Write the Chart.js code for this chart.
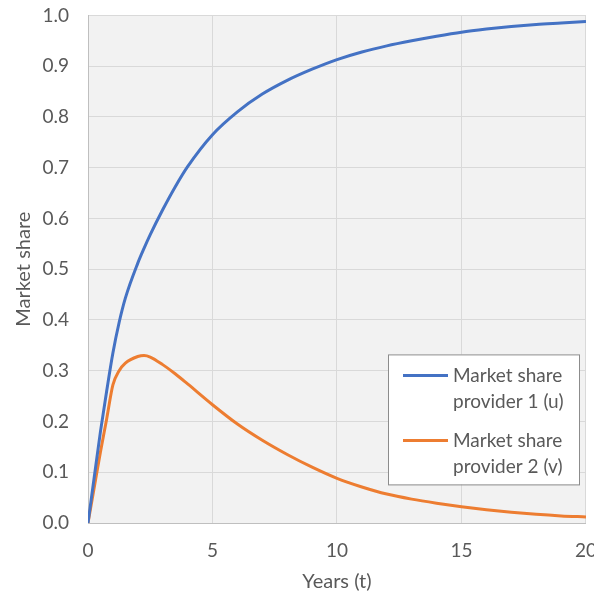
<!DOCTYPE html>
<html>
<head>
<meta charset="utf-8">
<script src="https://cdn.jsdelivr.net/npm/chart.js@4.4.1/dist/chart.umd.min.js"></script>
<style>
    html, body { margin: 0; padding: 0; background: #ffffff; overflow: hidden; }
    #wrap { position: relative; width: 613px; height: 611px; margin-top: -15px; }
</style>
</head>
<body>
<div id="wrap"><canvas id="shareChart"></canvas></div>
<script>
// --- Datos del gráfico ---
const years = [0, 0.25, 0.5, 0.75, 1, 1.25, 1.5, 2, 2.25, 2.5, 3, 3.5, 4, 5, 6, 7, 8, 9, 10, 11, 12, 13, 14, 15, 16, 17, 18, 19, 20];
const shareU = [0, 0.09, 0.18, 0.26, 0.335, 0.395, 0.443, 0.512, 0.541, 0.568, 0.617, 0.662, 0.702, 0.765, 0.81, 0.845, 0.872, 0.894, 0.913, 0.928, 0.94, 0.95, 0.959, 0.967, 0.973, 0.978, 0.982, 0.985, 0.988];
const shareV = [0, 0.07, 0.14, 0.205, 0.272, 0.3, 0.315, 0.328, 0.33, 0.327, 0.312, 0.294, 0.274, 0.233, 0.195, 0.163, 0.135, 0.11, 0.088, 0.071, 0.057, 0.047, 0.039, 0.032, 0.026, 0.021, 0.017, 0.014, 0.012];
const seriesNames = [['Market share', 'provider 1 (u)'], ['Market share', 'provider 2 (v)']];
const xTicks = [0, 5, 10, 15, 20];
const yTicks = [0, 0.1, 0.2, 0.3, 0.4, 0.5, 0.6, 0.7, 0.8, 0.9, 1.0];

const FONT = 'Lato, Calibri, "Liberation Sans", sans-serif';
const TEXT = '#595959';

// fondo gris del área de trazado
const plotBackground = {
    id: 'plotBackground',
    beforeDraw(chart) {
        const { ctx, chartArea: a } = chart;
        ctx.save();
        ctx.fillStyle = '#f2f2f2';
        ctx.fillRect(a.left, a.top, a.right - a.left, a.bottom - a.top);
        ctx.restore();
    }
};

// leyenda dentro del área, en dos líneas por serie
const boxLegend = {
    id: 'boxLegend',
    afterDraw(chart) {
        const { ctx, chartArea: a } = chart;
        // posición relativa al área de trazado
        const box = { x: a.left + 300, y: a.top + 339, w: 191, h: 130 };
        ctx.save();
        ctx.fillStyle = '#ffffff';
        ctx.fillRect(box.x, box.y, box.w, box.h);
        ctx.strokeStyle = '#8c8c8c';
        ctx.lineWidth = 1;
        ctx.strokeRect(box.x + 0.5, box.y + 0.5, box.w, box.h);

        ctx.font = '19px ' + FONT;
        ctx.fillStyle = TEXT;
        ctx.textBaseline = 'middle';
        chart.data.datasets.forEach((ds, i) => {
            const y0 = box.y + 21 + i * 65;
            ctx.strokeStyle = ds.borderColor;
            ctx.lineWidth = 3;
            ctx.beginPath();
            ctx.moveTo(box.x + 15, y0);
            ctx.lineTo(box.x + 60, y0);
            ctx.stroke();
            seriesNames[i].forEach((line, j) => {
                ctx.fillText(line, box.x + 65, y0 + j * 26.5);
            });
        });
        ctx.restore();
    }
};

new Chart(document.getElementById('shareChart'), {
    type: 'line',
    data: {
        datasets: [
            {
                label: seriesNames[0].join(' '),
                data: years.map((t, i) => ({ x: t, y: shareU[i] })),
                borderColor: '#4472c4',
                borderWidth: 3,
                pointRadius: 0,
                cubicInterpolationMode: 'monotone',
                fill: false
            },
            {
                label: seriesNames[1].join(' '),
                data: years.map((t, i) => ({ x: t, y: shareV[i] })),
                borderColor: '#ed7d31',
                borderWidth: 3,
                pointRadius: 0,
                cubicInterpolationMode: 'monotone',
                fill: false
            }
        ]
    },
    options: {
        responsive: true,
        maintainAspectRatio: false,
        animation: false,
        layout: { padding: 0 },
        plugins: {
            legend: { display: false },
            tooltip: { enabled: false }
        },
        scales: {
            x: {
                type: 'linear',
                min: 0,
                max: 20,
                afterBuildTicks: (scale) => { scale.ticks = xTicks.map(v => ({ value: v })); },
                afterFit: (scale) => { scale.height = 73; },
                grid: { color: '#d9d9d9', drawTicks: false },
                border: { color: '#bfbfbf', width: 1 },
                ticks: {
                    padding: 16,
                    color: TEXT,
                    font: { family: FONT, size: 19 }
                },
                title: {
                    display: true,
                    text: 'Years (t)',
                    color: TEXT,
                    font: { family: FONT, size: 20 },
                    padding: { top: 0, bottom: 2 }
                }
            },
            y: {
                min: 0,
                max: 1,
                afterBuildTicks: (scale) => { scale.ticks = yTicks.map(v => ({ value: v })); },
                afterFit: (scale) => { scale.width = 88; },
                grid: { color: '#d9d9d9', drawTicks: false },
                border: { color: '#bfbfbf', width: 1 },
                ticks: {
                    padding: 19,
                    color: TEXT,
                    font: { family: FONT, size: 19 },
                    callback: (v) => Number(v).toFixed(1)
                },
                title: {
                    display: true,
                    text: 'Market share',
                    color: TEXT,
                    font: { family: FONT, size: 20 },
                    padding: { top: 12, bottom: 0 }
                }
            }
        }
    },
    plugins: [plotBackground, boxLegend]
});
</script>
</body>
</html>
